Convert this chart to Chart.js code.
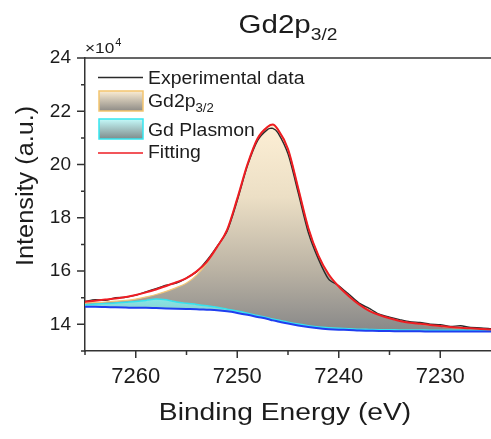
<!DOCTYPE html>
<html>
<head>
<meta charset="utf-8">
<script src="https://cdn.jsdelivr.net/npm/chart.js@4.4.1/dist/chart.umd.min.js"></script>
<style>
  html, body { margin: 0; padding: 0; background: #fff; }
</style>
</head>
<body>
<canvas id="xpsChart" width="491" height="439"></canvas>
<script>
// Binding energies (eV) and intensities (x10^4 counts)
const energies = [7265, 7264, 7263, 7262, 7261, 7260, 7259, 7258, 7257, 7256, 7255, 7254, 7253, 7252, 7251, 7250, 7249, 7248, 7247, 7246.5,
    7246, 7245, 7244, 7243, 7242, 7241, 7240, 7239, 7238, 7237, 7236, 7235, 7234, 7233, 7232, 7231, 7230, 7229, 7228, 7227, 7226, 7225];
const experimental = [14.86, 14.93, 14.9, 15.0, 15.02, 15.1, 15.22, 15.34, 15.47, 15.55, 15.74, 15.98, 16.4, 16.92, 17.5, 18.65, 19.95, 20.9, 21.32, 21.36,
    21.2, 20.4, 18.95, 17.45, 16.45, 15.7, 15.45, 15.13, 14.8, 14.6, 14.38, 14.27, 14.18, 14.1, 14.07, 14.01, 13.99, 13.92, 13.95, 13.88, 13.87, 13.84];
const gd2p = [14.8, 14.82, 14.84, 14.87, 14.9, 14.95, 15.03, 15.12, 15.24, 15.38, 15.55, 15.85, 16.3, 16.9, 17.55, 18.72, 20.0, 20.98, 21.42, 21.5,
    21.32, 20.58, 19.12, 17.62, 16.58, 15.88, 15.43, 15.08, 14.78, 14.53, 14.36, 14.23, 14.13, 14.06, 14.01, 13.97, 13.93, 13.89, 13.86, 13.84, 13.82, 13.8];
const plasmon = [14.74, 14.76, 14.78, 14.8, 14.83, 14.86, 14.9, 14.95, 14.92, 14.84, 14.79, 14.75, 14.7, 14.64, 14.57, 14.5, 14.42, 14.33, 14.25, 14.2,
    14.16, 14.08, 14.01, 13.95, 13.9, 13.87, 13.85, 13.84, 13.82, 13.81, 13.8, 13.8, 13.79, 13.79, 13.79, 13.78, 13.78, 13.78, 13.78, 13.78, 13.78, 13.78];
const background = [14.66, 14.66, 14.65, 14.64, 14.63, 14.62, 14.62, 14.61, 14.6, 14.59, 14.58, 14.57, 14.55, 14.53, 14.49, 14.43, 14.36, 14.28, 14.2, 14.15,
    14.11, 14.03, 13.96, 13.9, 13.85, 13.82, 13.8, 13.79, 13.77, 13.76, 13.75, 13.75, 13.74, 13.74, 13.74, 13.73, 13.73, 13.73, 13.73, 13.73, 13.73, 13.73];
const fitting = [14.85, 14.89, 14.93, 14.97, 15.03, 15.1, 15.2, 15.31, 15.44, 15.58, 15.74, 15.99, 16.35, 16.9, 17.55, 18.72, 20.0, 20.98, 21.42, 21.5,
    21.32, 20.58, 19.12, 17.62, 16.58, 15.88, 15.42, 15.06, 14.75, 14.51, 14.35, 14.23, 14.13, 14.06, 14.02, 13.98, 13.94, 13.9, 13.87, 13.85, 13.83, 13.81];

// Axis ticks
const xMajorTicks = [7260, 7250, 7240, 7230];
const xMinorTicks = [7265, 7255, 7245, 7235];
const yMajorTicks = [14, 16, 18, 20, 22, 24];
const yMinorTicks = [13, 15, 17, 19, 21, 23];

const FONT = '"Liberation Sans", Arial, Helvetica, sans-serif';
const axisColor = '#333333';
const textColor = '#1c1c1c';

const toPoints = vals => energies.map((e, i) => ({ x: e, y: vals[i] }));

// Vertical gradient for the Gd2p3/2 area (cream at the peak, grey at the base)
function gdFill(context) {
    const chart = context.chart;
    const ys = chart.scales.y;
    if (!ys || !chart.chartArea) return 'rgba(235,222,200,0.9)';
    const top = ys.getPixelForValue(Math.max(...gd2p));
    const bottom = ys.getPixelForValue(Math.min(...background));
    const g = chart.ctx.createLinearGradient(0, top, 0, bottom);
    g.addColorStop(0, '#fdefd5');
    g.addColorStop(0.35, '#ecdfc5');
    g.addColorStop(0.7, '#bbb3a4');
    g.addColorStop(1, '#888888');
    return g;
}

function plasmonFill(context) {
    const chart = context.chart;
    const ys = chart.scales.y;
    if (!ys || !chart.chartArea) return 'rgba(90,220,220,0.8)';
    const top = ys.getPixelForValue(Math.max(...plasmon));
    const bottom = ys.getPixelForValue(Math.min(...background));
    const g = chart.ctx.createLinearGradient(0, top, 0, bottom);
    g.addColorStop(0, '#86e6e6');
    g.addColorStop(1, '#97abab');
    return g;
}

// text drawn with a horizontal stretch to match the original figure
function stretchText(ctx, str, x, y, size, sx, align) {
    ctx.save();
    ctx.font = size + 'px ' + FONT;
    ctx.fillStyle = textColor;
    ctx.textAlign = align || 'left';
    ctx.textBaseline = 'alphabetic';
    ctx.translate(x, y);
    ctx.scale(sx, 1);
    ctx.fillText(str, 0, 0);
    const w = ctx.measureText(str).width * sx;
    ctx.restore();
    return w;
}

function textWidth(ctx, str, size, sx) {
    ctx.save();
    ctx.font = size + 'px ' + FONT;
    const w = ctx.measureText(str).width * sx;
    ctx.restore();
    return w;
}

const decorations = {
    id: 'decorations',
    afterDraw(chart) {
        const ctx = chart.ctx;
        const area = chart.chartArea;
        const xs = chart.scales.x;
        const ys = chart.scales.y;

        // top frame line and tick marks
        ctx.save();
        ctx.strokeStyle = axisColor;
        ctx.lineWidth = 1.5;
        ctx.beginPath();
        ctx.moveTo(area.left, area.top);
        ctx.lineTo(area.right, area.top);
        xMajorTicks.forEach(v => {
            const px = xs.getPixelForValue(v);
            ctx.moveTo(px, area.bottom);
            ctx.lineTo(px, area.bottom + 7);
        });
        xMinorTicks.forEach(v => {
            const px = xs.getPixelForValue(v);
            ctx.moveTo(px, area.bottom);
            ctx.lineTo(px, area.bottom + 4);
        });
        yMajorTicks.forEach(v => {
            const py = ys.getPixelForValue(v);
            ctx.moveTo(area.left, py);
            ctx.lineTo(area.left - 8, py);
        });
        yMinorTicks.forEach(v => {
            const py = ys.getPixelForValue(v);
            ctx.moveTo(area.left, py);
            ctx.lineTo(area.left - 4, py);
        });
        ctx.stroke();
        ctx.restore();

        // title Gd2p3/2, centred over the plot
        const cx = (area.left + area.right) / 2;
        const wMain = textWidth(ctx, 'Gd2p', 25, 1.18);
        const wSub = textWidth(ctx, '3/2', 16, 1.2);
        const tx = cx - (wMain + wSub) / 2;
        stretchText(ctx, 'Gd2p', tx, 33, 25, 1.18);
        stretchText(ctx, '3/2', tx + wMain, 40, 16, 1.2);

        // exponent label
        const w10 = stretchText(ctx, '\u00d710', area.left, 53, 15, 1.15);
        stretchText(ctx, '4', area.left + w10 + 1, 46, 10, 1.1);

        // axis titles
        stretchText(ctx, 'Binding Energy (eV)', cx - 3, 420, 23.5, 1.2, 'center');
        ctx.save();
        ctx.translate(33, ys.getPixelForValue(19.2));
        ctx.rotate(-Math.PI / 2);
        stretchText(ctx, 'Intensity (a.u.)', 0, 0, 23, 1.1, 'center');
        ctx.restore();

        // legend
        const lx0 = 98, lx1 = 143, tx0 = 148;
        ctx.save();
        ctx.lineWidth = 1.5;
        ctx.strokeStyle = '#2a2a2a';
        ctx.beginPath();
        ctx.moveTo(lx0, 77.5);
        ctx.lineTo(lx1, 77.5);
        ctx.stroke();

        let g = ctx.createLinearGradient(0, 91, 0, 111);
        g.addColorStop(0, '#fcedd3');
        g.addColorStop(1, '#8e8b86');
        ctx.fillStyle = g;
        ctx.fillRect(lx0 + 1, 91, lx1 - lx0 - 1, 20);
        ctx.strokeStyle = '#f3c56f';
        ctx.strokeRect(lx0 + 1, 91, lx1 - lx0 - 1, 20);

        g = ctx.createLinearGradient(0, 119, 0, 139);
        g.addColorStop(0, '#c4fafa');
        g.addColorStop(1, '#7f8b8b');
        ctx.fillStyle = g;
        ctx.fillRect(lx0 + 1, 119, lx1 - lx0 - 1, 20);
        ctx.strokeStyle = '#36e6f0';
        ctx.strokeRect(lx0 + 1, 119, lx1 - lx0 - 1, 20);

        ctx.strokeStyle = '#ee1d23';
        ctx.beginPath();
        ctx.moveTo(lx0, 153);
        ctx.lineTo(lx1, 153);
        ctx.stroke();
        ctx.restore();

        stretchText(ctx, 'Experimental data', tx0, 84, 17.5, 1.11);
        const wg = stretchText(ctx, 'Gd2p', tx0, 106.5, 17.5, 1.11);
        stretchText(ctx, '3/2', tx0 + wg, 112, 12, 1.1);
        stretchText(ctx, 'Gd Plasmon', tx0, 135.5, 17.5, 1.11);
        stretchText(ctx, 'Fitting', tx0, 158, 17.5, 1.11);
    }
};

const ctx = document.getElementById('xpsChart').getContext('2d');
const chart = new Chart(ctx, {
    type: 'line',
    data: {
        datasets: [
            {
                label: 'Fitting',
                data: toPoints(fitting),
                borderColor: '#ee1d23',
                borderWidth: 2,
                pointRadius: 0,
                fill: false,
                cubicInterpolationMode: 'monotone',
                order: 0
            },
            {
                label: 'Experimental data',
                data: toPoints(experimental),
                borderColor: '#2a2a2a',
                borderWidth: 1.4,
                pointRadius: 0,
                fill: false,
                tension: 0.25,
                order: 1
            },
            {
                label: 'Background',
                data: toPoints(background),
                borderColor: '#1f3ef0',
                borderWidth: 2,
                pointRadius: 0,
                fill: false,
                cubicInterpolationMode: 'monotone',
                order: 2
            },
            {
                label: 'Gd Plasmon',
                data: toPoints(plasmon),
                borderColor: '#35e2ee',
                backgroundColor: plasmonFill,
                borderWidth: 1.5,
                pointRadius: 0,
                fill: 2,
                cubicInterpolationMode: 'monotone',
                order: 3
            },
            {
                label: 'Gd2p3/2',
                data: toPoints(gd2p),
                borderColor: '#f2c779',
                backgroundColor: gdFill,
                borderWidth: 1.2,
                pointRadius: 0,
                fill: 3,
                cubicInterpolationMode: 'monotone',
                order: 4
            }
        ]
    },
    options: {
        responsive: false,
        animation: false,
        layout: { padding: { top: 58, left: 0, right: 0, bottom: 0 } },
        plugins: {
            legend: { display: false },
            title: { display: false },
            tooltip: { enabled: false }
        },
        scales: {
            x: {
                type: 'linear',
                reverse: true,
                min: 7225,
                max: 7265,
                afterBuildTicks: scale => { scale.ticks = xMajorTicks.map(v => ({ value: v })); },
                afterFit: scale => { scale.height = 88; },
                grid: { display: false, drawTicks: false },
                border: { display: true, color: axisColor, width: 1.5 },
                ticks: {
                    color: textColor,
                    font: { size: 22, family: FONT },
                    padding: 13,
                    maxRotation: 0,
                    autoSkip: false,
                    callback: value => String(value)
                }
            },
            y: {
                type: 'linear',
                min: 13,
                max: 24,
                afterBuildTicks: scale => { scale.ticks = yMajorTicks.map(v => ({ value: v })); },
                afterFit: scale => { scale.width = 85; },
                grid: { display: false, drawTicks: false },
                border: { display: true, color: axisColor, width: 1.5 },
                ticks: {
                    color: textColor,
                    font: { size: 19, family: FONT },
                    padding: 14,
                    callback: value => String(value)
                }
            }
        }
    },
    plugins: [decorations]
});
</script>
</body>
</html>
